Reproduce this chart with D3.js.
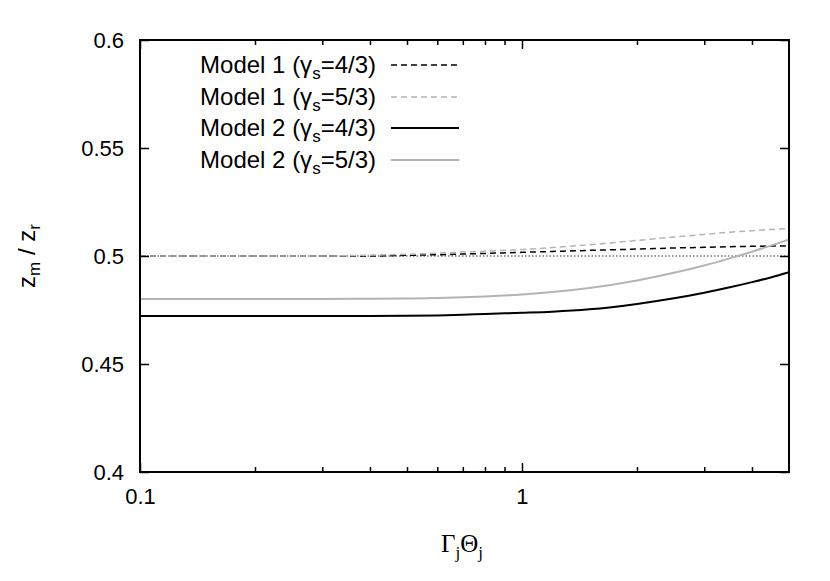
<!DOCTYPE html>
<html>
<head>
<meta charset="utf-8">
<script src="https://cdn.jsdelivr.net/npm/d3@7"></script>
<style>
  body { margin: 0; background: #fff; }
  svg { display: block; }
</style>
</head>
<body>
<svg id="chart" width="830" height="581"></svg>
<script>
// ---- data ----
const xValues = [0.1, 0.2, 0.3, 0.4, 0.5, 0.6, 0.7, 0.8, 1.0, 1.2, 1.5, 2, 2.5, 3, 3.5, 4, 4.5, 5];
const model1_43 = [0.5000, 0.5000, 0.5000, 0.5000, 0.5003, 0.5006, 0.5009, 0.5012, 0.5017, 0.5021, 0.5026, 0.5032, 0.5037, 0.5040, 0.5043, 0.5045, 0.5046, 0.5047];
const model1_53 = [0.5000, 0.5000, 0.5000, 0.5004, 0.5008, 0.5013, 0.5018, 0.5022, 0.5030, 0.5039, 0.5052, 0.5072, 0.5088, 0.5100, 0.5110, 0.5117, 0.5123, 0.5127];
const model2_43 = [0.4722, 0.4722, 0.4722, 0.4722, 0.4723, 0.4725, 0.4728, 0.4732, 0.4737, 0.4742, 0.4753, 0.4778, 0.4804, 0.4830, 0.4855, 0.4879, 0.4902, 0.4925];
const model2_53 = [0.4801, 0.4801, 0.4801, 0.4802, 0.4803, 0.4805, 0.4809, 0.4813, 0.4822, 0.4833, 0.4852, 0.4887, 0.4922, 0.4956, 0.4989, 0.5020, 0.5049, 0.5077];
const refLine = 0.5;
const yTicks = [0.4, 0.45, 0.5, 0.55, 0.6];
const yTickLabels = ["0.4", "0.45", "0.5", "0.55", "0.6"];
const xMajorTicks = [0.1, 1];
const xMajorLabels = ["0.1", "1"];
const xMinorTicks = [0.2, 0.3, 0.4, 0.5, 0.6, 0.7, 0.8, 0.9, 2, 3, 4];
const seriesNames = ["Model 1", "Model 1", "Model 2", "Model 2"];
const seriesGamma = ["4/3", "5/3", "4/3", "5/3"];

// ---- layout ----
const L = 140, R = 789, T = 40, B = 472;
const SANS = '"Liberation Sans", Arial, sans-serif';
const SERIF = '"Liberation Serif", "Times New Roman", serif';
const svg = d3.select("#chart");

const x = d3.scaleLog().domain([0.1, 5]).range([L, R]);
const y = d3.scaleLinear().domain([0.4, 0.6]).range([B, T]);

const styles = [
  { color: "#000000", dash: "6,4", width: 1.5 },
  { color: "#b4b4b4", dash: "6,4", width: 1.5 },
  { color: "#000000", dash: null, width: 2 },
  { color: "#b4b4b4", dash: null, width: 2 }
];
const seriesData = [model1_43, model1_53, model2_43, model2_53];

// reference dotted line
svg.append("line")
  .attr("x1", x(0.1)).attr("x2", x(5))
  .attr("y1", y(refLine)).attr("y2", y(refLine))
  .attr("stroke", "#777").attr("stroke-width", 1.5)
  .attr("stroke-dasharray", "1.5,2");

const line = d3.line()
  .x((d, i) => x(xValues[i]))
  .y(d => y(d))
  .curve(d3.curveMonotoneX);

seriesData.forEach((s, k) => {
  svg.append("path")
    .datum(s)
    .attr("d", line)
    .attr("fill", "none")
    .attr("stroke", styles[k].color)
    .attr("stroke-width", styles[k].width)
    .attr("stroke-dasharray", styles[k].dash);
});

// axes (ticks inward, mirrored)
const fs = 22;
const gBottom = svg.append("g").attr("transform", `translate(0,${B})`)
  .call(d3.axisBottom(x).tickValues(xMajorTicks).tickSize(-9).tickPadding(16)
        .tickFormat((d, i) => xMajorLabels[i]));
const gBottomMinor = svg.append("g").attr("transform", `translate(0,${B})`)
  .call(d3.axisBottom(x).tickValues(xMinorTicks).tickSize(-5).tickFormat(""));
const gTop = svg.append("g").attr("transform", `translate(0,${T})`)
  .call(d3.axisTop(x).tickValues(xMajorTicks).tickSize(-9).tickFormat(""));
const gTopMinor = svg.append("g").attr("transform", `translate(0,${T})`)
  .call(d3.axisTop(x).tickValues(xMinorTicks).tickSize(-5).tickFormat(""));
const gLeft = svg.append("g").attr("transform", `translate(${L},0)`)
  .call(d3.axisLeft(y).tickValues(yTicks).tickSize(-9).tickPadding(16)
        .tickFormat((d, i) => yTickLabels[i]));
const gRight = svg.append("g").attr("transform", `translate(${R},0)`)
  .call(d3.axisRight(y).tickValues(yTicks).tickSize(-9).tickFormat(""));

[gBottom, gBottomMinor, gTop, gTopMinor, gLeft, gRight].forEach(g => {
  g.select(".domain").remove();
  g.selectAll(".tick line").attr("stroke", "#000").attr("stroke-width", 1.5);
  g.selectAll(".tick text").style("font-size", fs + "px").attr("fill", "#000")
    .style("font-family", SANS);
});

// frame
svg.append("rect")
  .attr("x", L).attr("y", T).attr("width", R - L).attr("height", B - T)
  .attr("fill", "none").attr("stroke", "#000").attr("stroke-width", 2);

// x title
const xt = svg.append("text")
  .attr("x", 462).attr("y", 552)
  .attr("text-anchor", "middle")
  .style("font-size", "25px")
  .style("font-family", SERIF);
xt.append("tspan").text("Γ");
xt.append("tspan").style("font-size", "17px").attr("dy", 6).text("j");
xt.append("tspan").attr("dy", -6).text("Θ");
xt.append("tspan").style("font-size", "17px").attr("dy", 6).text("j");

// y title
const yt = svg.append("text")
  .attr("transform", `translate(35,256) rotate(-90)`)
  .attr("text-anchor", "middle")
  .style("font-size", "24px")
  .style("font-family", SANS);
yt.append("tspan").text("z");
yt.append("tspan").style("font-size", "17px").attr("dy", 5).text("m");
yt.append("tspan").attr("dy", -5).text(" / z");
yt.append("tspan").style("font-size", "17px").attr("dy", 5).text("r");

// legend
const legY = [65, 97, 128, 160];
seriesNames.forEach((name, k) => {
  const t = svg.append("text")
    .attr("x", 376).attr("y", legY[k] + 8)
    .attr("text-anchor", "end")
    .style("font-size", "24px")
    .style("font-family", SANS);
  t.append("tspan").text(name + " (γ");
  t.append("tspan").style("font-size", "17px").attr("dy", 6).text("s");
  t.append("tspan").attr("dy", -6).text("=" + seriesGamma[k] + ")");
  svg.append("line")
    .attr("x1", 391).attr("x2", 459)
    .attr("y1", legY[k]).attr("y2", legY[k])
    .attr("stroke", styles[k].color)
    .attr("stroke-width", styles[k].width)
    .attr("stroke-dasharray", styles[k].dash);
});
</script>
</body>
</html>
